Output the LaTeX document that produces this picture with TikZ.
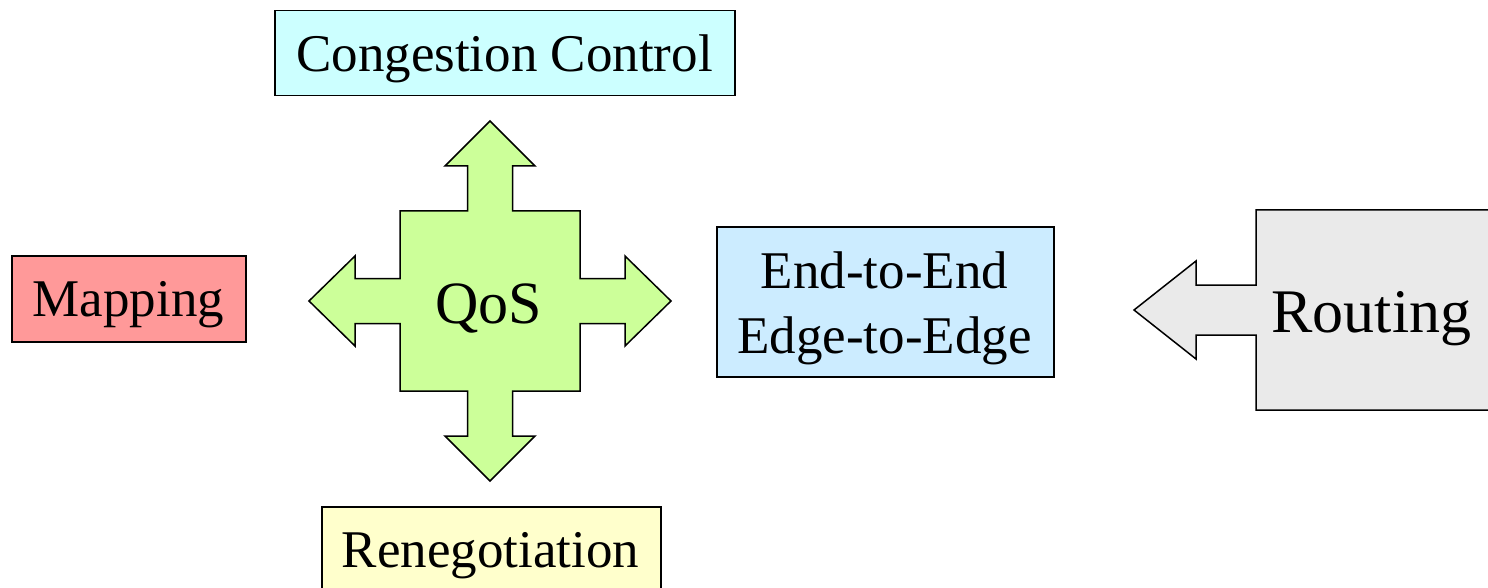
\documentclass[tikz,border=0pt]{standalone}
\usepackage{fontspec}
\setmainfont{Liberation Serif}
\usetikzlibrary{calc}
\definecolor{ccfill}{HTML}{CCFFFF}
\definecolor{mapfill}{HTML}{FF9999}
\definecolor{e2efill}{HTML}{CCECFF}
\definecolor{renfill}{HTML}{FFFFCC}
\definecolor{qosfill}{HTML}{CCFF99}
\definecolor{routefill}{HTML}{EAEAEA}
\begin{document}
\begin{tikzpicture}[x=1pt,y=-1pt,
  outline/.style={draw=black,line width=1.5pt,line join=miter},
  boxshape/.style={outline,rectangle,inner sep=0pt,anchor=north west},
  txt/.style={font=\fontsize{53}{65}\selectfont,inner sep=0pt,anchor=base},
  bigtxt/.style={font=\fontsize{62}{70}\selectfont,inner sep=0pt,anchor=base}]
\useasboundingbox (0,0) rectangle (1488,588);
\clip (0,0) rectangle (1488,588);

% plain boxes
\node[boxshape,fill=ccfill,minimum width=460pt,minimum height=85pt] (ccbox) at (274,10) {};
\node[boxshape,fill=mapfill,minimum width=234pt,minimum height=86pt] (mapbox) at (11,255) {};
\node[boxshape,fill=e2efill,minimum width=337pt,minimum height=150pt] (e2ebox) at (716,226) {};
\node[boxshape,fill=renfill,minimum width=339pt,minimum height=120pt] (renbox) at (321,506) {};

% four-way arrow round QoS
\coordinate (q) at (490,301);
\draw[outline,fill=qosfill]
  ($(q)+(-90,-90)$) -- ($(q)+(-22.5,-90)$) -- ($(q)+(-22.5,-135)$) -- ($(q)+(-45,-135)$)
  -- ($(q)+(0,-180)$) -- ($(q)+(45,-135)$) -- ($(q)+(22.5,-135)$) -- ($(q)+(22.5,-90)$)
  -- ($(q)+(90,-90)$) -- ($(q)+(90,-22.5)$) -- ($(q)+(135,-22.5)$) -- ($(q)+(135,-45)$)
  -- ($(q)+(181,0)$) -- ($(q)+(135,45)$) -- ($(q)+(135,22.5)$) -- ($(q)+(90,22.5)$)
  -- ($(q)+(90,90)$) -- ($(q)+(22.5,90)$) -- ($(q)+(22.5,135)$) -- ($(q)+(45,135)$)
  -- ($(q)+(0,180)$) -- ($(q)+(-45,135)$) -- ($(q)+(-22.5,135)$) -- ($(q)+(-22.5,90)$)
  -- ($(q)+(-90,90)$) -- ($(q)+(-90,22.5)$) -- ($(q)+(-135,22.5)$) -- ($(q)+(-135,45)$)
  -- ($(q)+(-181,0)$) -- ($(q)+(-135,-45)$) -- ($(q)+(-135,-22.5)$) -- ($(q)+(-90,-22.5)$)
  -- cycle;

% routing block with its left arrow
\draw[outline,fill=routefill]
  (1256,210) -- (1256,285) -- (1196,285) -- (1196,261) -- (1134,310)
  -- (1196,359) -- (1196,335) -- (1256,335) -- (1256,410) -- (1510,410)
  -- (1510,210) -- cycle;

% labels
\node[txt] (cctxt) at (504.5,72) {Congestion Control};
\node[txt] (maptxt) at (128.5,316) {Mapping};
\node[txt] (e2etxt) at (884.5,288) {End-to-End};
\node[txt] (edgetxt) at (884.5,353) {Edge-to-Edge};
\node[txt] (rentxt) at (490.5,567) {Renegotiation};
\node[font=\fontsize{60}{70}\selectfont,inner sep=0pt,anchor=base] (qostxt) at (488.5,323) {QoS};
\node[bigtxt] (routetxt) at (1371.5,332) {Routing};
\end{tikzpicture}
\end{document}
